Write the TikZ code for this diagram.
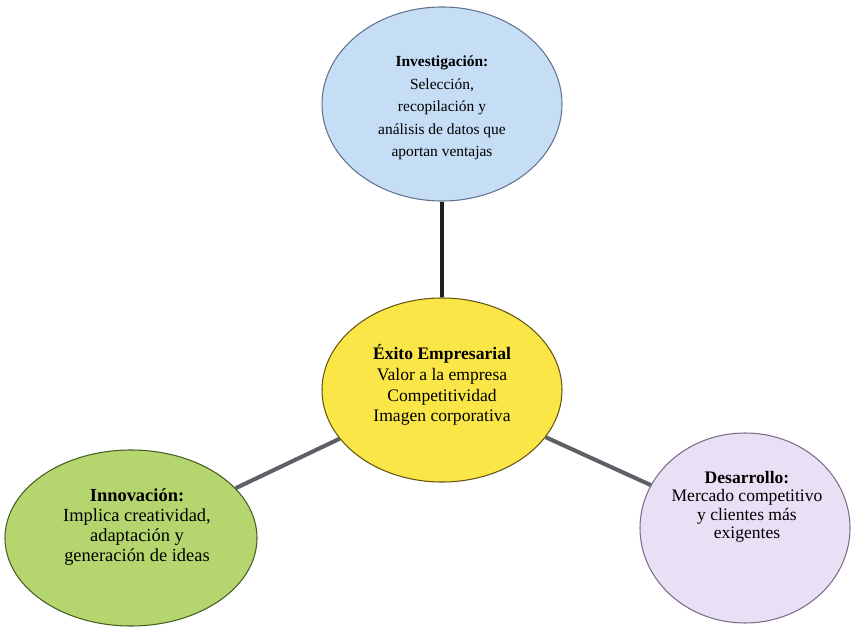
\documentclass[tikz,border=0pt]{standalone}
\usepackage{fontspec}
\setmainfont{Liberation Serif}
\definecolor{invfill}{RGB}{197,221,245}
\definecolor{invdraw}{RGB}{100,115,140}
\definecolor{exitofill}{RGB}{250,230,70}
\definecolor{exitodraw}{RGB}{100,85,20}
\definecolor{innfill}{RGB}{181,214,110}
\definecolor{inndraw}{RGB}{70,95,35}
\definecolor{desfill}{RGB}{233,224,246}
\definecolor{desdraw}{RGB}{120,110,135}
\definecolor{spoke}{RGB}{95,95,102}
\tikzset{bubble/.style = {shape = ellipse,
                                    inner sep=0pt,
                                    line width=0.6pt,
                                    draw}}
\tikzset{btext/.style = {align=center,
                                    inner sep=0pt,
                                    text=black}}
\usetikzlibrary{shapes.geometric}
\begin{document}
\begin{tikzpicture}[spokeline/.style = {line width=2.3pt,
                                    color=spoke}]
		\useasboundingbox (0,0) rectangle (17.12,12.52);
		\node[bubble, fill=invfill, draw=invdraw, minimum width=4.8cm, minimum height=3.88cm] (inv) at (8.84,10.44) {};
		\node[bubble, fill=exitofill, draw=exitodraw, minimum width=4.8cm, minimum height=3.68cm] (exito) at (8.84,4.72) {};
		\node[bubble, fill=innfill, draw=inndraw, minimum width=5.04cm, minimum height=3.52cm] (inn) at (2.62,1.76) {};
		\node[bubble, fill=desfill, draw=desdraw, minimum width=4.2cm, minimum height=3.8cm] (des) at (14.9,1.96) {};
		\node[btext, font=\fontsize{8.8}{12.8}\selectfont] (invtxt) at (8.84,10.36)
			{\textbf{Investigación:}\\Selección,\\recopilación y\\análisis de datos que\\aportan ventajas};
		\node[btext, font=\fontsize{10}{11.8}\selectfont] (exitotxt) at (8.84,4.82)
			{\textbf{Éxito Empresarial}\\Valor a la empresa\\Competitividad\\Imagen corporativa};
		\node[btext, font=\fontsize{10.5}{11.5}\selectfont] (inntxt) at (2.74,1.98)
			{\textbf{Innovación:}\\Implica creatividad,\\adaptación y\\generación de ideas};
		\node[btext, font=\fontsize{10}{10.5}\selectfont] (destxt) at (14.94,2.38)
			{\textbf{Desarrollo:}\\Mercado competitivo\\y clientes más\\exigentes};
		\path[line width=2.8pt, color=black!88] (inv) edge (exito);
		\path[spokeline] (inn) edge (exito);
		\path[spokeline] (exito) edge (des);
	\end{tikzpicture}
\end{document}
